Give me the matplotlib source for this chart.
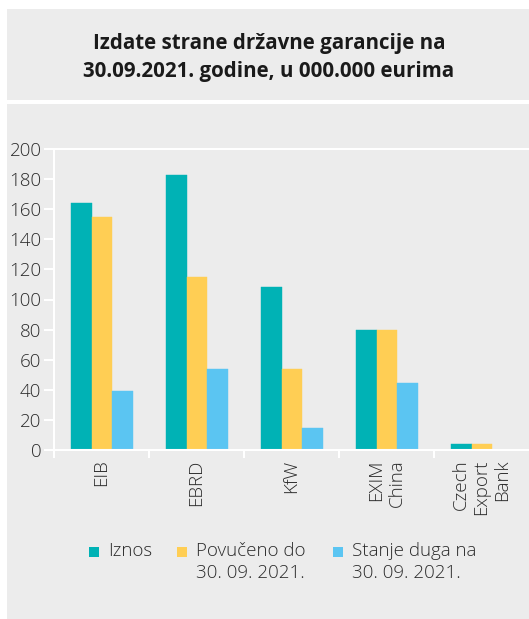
import matplotlib
matplotlib.use("Agg")
import matplotlib.pyplot as plt
from matplotlib.patches import Rectangle
import numpy as np

plt.rcParams['font.family'] = ['Open Sans', 'DejaVu Sans']

# data (millions of EUR)
lenders = ['EIB', 'EBRD', 'KfW', 'EXIM\nChina', 'Czech\nExport\nBank']
iznos = [164, 182.5, 108, 79.5, 4.2]
povuceno = [155, 115, 54, 79.5, 4.2]
stanje = [39, 54, 14.5, 44.5, 0]
series_labels = ['Iznos', 'Povučeno do\n30. 09. 2021.', 'Stanje duga na\n30. 09. 2021.']
colors = ['#00b2b5', '#ffce54', '#5bc5f2']

W, H = 529, 619
fig = plt.figure(figsize=(W / 100, H / 100), dpi=100, facecolor='white')

bg = '#ececec'
# title panel and chart panel
fig.patches.append(Rectangle((7 / W, 1 - 100 / H), 1, 91 / H, transform=fig.transFigure,
                             facecolor=bg, edgecolor='none', zorder=-5))
fig.patches.append(Rectangle((7 / W, 0), 1, 1 - 104 / H, transform=fig.transFigure,
                             facecolor=bg, edgecolor='none', zorder=-5))

fig.text(269 / W, 1 - 44 / H, 'Izdate strane državne garancije na', ha='center', va='center',
         fontsize=14.8, fontweight='bold', color='#1a1a1a')
fig.text(269 / W, 1 - 72 / H, '30.09.2021. godine, u 000.000 eurima', ha='center', va='center',
         fontsize=14.8, fontweight='bold', color='#1a1a1a')

ax = fig.add_axes([54 / W, 1 - 450 / H, 1 - 54 / W, 301 / H])
ax.set_facecolor('none')
ax.set_zorder(2)

x = np.arange(len(lenders))
bw = 0.22
start = 0.175
for i, (vals, c) in enumerate(zip([iznos, povuceno, stanje], colors)):
    ax.bar(x + start + bw * i, vals, width=bw, align='edge', color=c,
           edgecolor=c, linewidth=0.3, zorder=2)

ax.set_xlim(0, len(lenders))
ax.set_ylim(0, 200)
ax.set_yticks(np.arange(0, 201, 20))

ax.set_xticks(np.arange(0, len(lenders)))
ax.set_xticklabels([])
ax.set_xticks(x + 0.5, minor=True)
ax.set_xticklabels(lenders, minor=True, rotation=90, va='top', ha='center',
                   multialignment='right')

ax.tick_params(axis='y', colors='white', length=7, width=1.5, direction='out',
               labelcolor='#2b2b2b', labelsize=13.5, pad=2)
ax.tick_params(axis='x', which='major', colors='white', length=6, width=1.5, direction='out')
ax.tick_params(axis='x', which='minor', length=0, labelcolor='#2b2b2b', labelsize=13.5, pad=7)
for lab in ax.get_yticklabels() + ax.get_xticklabels(minor=True):
    lab.set_fontweight('light')

for s in ['left', 'bottom', 'top']:
    ax.spines[s].set_color('white')
    ax.spines[s].set_linewidth(1.5)
ax.spines['right'].set_visible(False)

# legend drawn by hand so squares line up with the first text line
leg_sq = [89, 177, 333]
leg_tx = [108, 196, 352]
for sx, tx, c, lab in zip(leg_sq, leg_tx, colors, series_labels):
    fig.patches.append(Rectangle((sx / W, 1 - 557 / H), 10 / W, 10 / H, transform=fig.transFigure,
                                 facecolor=c, edgecolor='none', zorder=3))
    fig.text(tx / W, 1 - 542 / H, lab, ha='left', va='top', fontsize=13.5,
             fontweight='light', color='#2b2b2b', linespacing=1.3)

fig.savefig('out.png', dpi=100, facecolor='white')
